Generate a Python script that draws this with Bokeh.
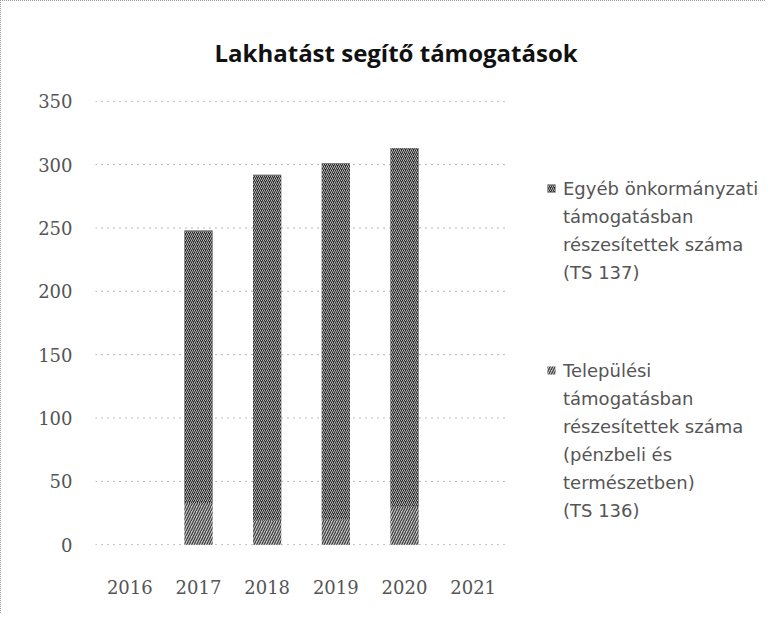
from bokeh.plotting import figure
from bokeh.models import ColumnDataSource, Legend, LegendItem, FixedTicker
from bokeh.embed import file_html
from bokeh.resources import INLINE

years = ["2016", "2017", "2018", "2019", "2020", "2021"]
bar_years = ["2017", "2018", "2019", "2020"]
telepulesi = [33, 19, 20, 30]
egyeb = [215, 273, 281, 283]
y_ticks = [0, 50, 100, 150, 200, 250, 300, 350]
title_text = "Lakhatást segítő támogatások"
lines_egyeb = ["Egyéb önkormányzati", "támogatásban", "részesítettek száma", "(TS 137)"]
lines_telep = ["Települési", "támogatásban", "részesítettek száma", "(pénzbeli és",
               "természetben)", "(TS 136)"]

xs = [years.index(y) for y in bar_years]
tops = [a + b for a, b in zip(telepulesi, egyeb)]
src = ColumnDataSource(dict(x=xs, t=telepulesi, total=tops, zero=[0] * len(xs)))

n = len(years)
frame_w = 765 - 94
x_end = -0.5 + frame_w / (412 / n)

p = figure(x_range=(-0.5, x_end), y_range=(-0.6, 350.6), width=765, height=613,
           output_backend="svg", toolbar_location=None,
           min_border_left=94, min_border_right=0, min_border_top=98, min_border_bottom=69)
p.styles = {"border-left": "1px dotted #9a9a9a", "border-top": "1px dotted #9a9a9a"}
p.outline_line_color = None

p.title.text = title_text
p.title.text_font = "Open Sans"
p.title.text_font_style = "bold"
p.title.text_font_size = "24px"
p.title.text_color = "#111111"
p.title.align = "left"
p.title.offset = 119
p.title.standoff = 64

# dotted value gridlines over the category span only
p.segment(x0=[-0.5] * len(y_ticks), x1=[n - 0.5] * len(y_ticks), y0=y_ticks, y1=y_ticks,
          line_color="#707070", line_dash="1 5", line_width=1)

r1 = p.vbar(x="x", bottom="zero", top="t", width=0.41, source=src,
            fill_color="#c4c4c4", line_color=None,
            hatch_pattern="right_diagonal_line", hatch_color="#3a3a3a",
            hatch_scale=5, hatch_weight=1.2)
r2 = p.vbar(x="x", bottom="t", top="total", width=0.41, source=src,
            fill_color="#262626", line_color=None,
            hatch_pattern="right_diagonal_line", hatch_color="#b8b8b8",
            hatch_scale=4, hatch_weight=1)
blank = p.vbar(x=[], top=[], width=0.4, fill_alpha=0, line_alpha=0)

p.xaxis.ticker = FixedTicker(ticks=list(range(n)))
p.xaxis.major_label_overrides = {i: y for i, y in enumerate(years)}
p.yaxis.ticker = FixedTicker(ticks=y_ticks)
for ax in (p.xaxis, p.yaxis):
    ax.axis_line_color = None
    ax.major_tick_line_color = None
    ax.minor_tick_line_color = None
    ax.major_label_text_font = "DejaVu Serif"
    ax.major_label_text_font_size = "18px"
    ax.major_label_text_color = "#555555"
p.yaxis.major_label_standoff = 17
p.xaxis.major_label_standoff = 28
p.xgrid.grid_line_color = None
p.ygrid.grid_line_color = None


def make_legend(lines, rend, loc):
    items = [LegendItem(label=lines[0], renderers=[rend])]
    items += [LegendItem(label=t, renderers=[blank]) for t in lines[1:]]
    lg = Legend(items=items, location=loc)
    lg.border_line_color = None
    lg.background_fill_alpha = 0
    lg.padding = 0
    lg.margin = 0
    lg.spacing = 0
    lg.label_height = 28
    lg.label_text_font = "DejaVu Sans"
    lg.label_text_font_size = "18px"
    lg.label_text_color = "#555555"
    lg.glyph_width = 10
    lg.glyph_height = 10
    lg.label_standoff = 7
    return lg


p.add_layout(make_legend(lines_egyeb, r2, (451, 259)), "center")
p.add_layout(make_legend(lines_telep, r1, (451, 21)), "center")

open("out.html", "w").write(file_html(p, INLINE))
